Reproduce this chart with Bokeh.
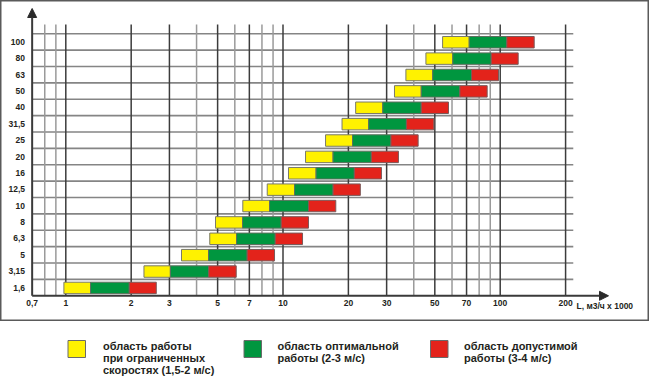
import math
from bokeh.plotting import figure
from bokeh.models import Range1d, Arrow, NormalHead
from bokeh.layouts import column
from bokeh.core.properties import value
from bokeh.embed import file_html
from bokeh.resources import INLINE

# ---------------- data ----------------
categories = ["1,6", "3,15", "5", "6,3", "8", "10", "12,5", "16", "20",
              "25", "31,5", "40", "50", "63", "80", "100"]
yellow_start = [0.98, 2.29, 3.41, 4.60, 4.89, 6.53, 8.46, 10.6, 12.7,
                15.7, 18.7, 21.6, 32.6, 36.8, 45.5, 54.3]
green_start = [1.30, 3.03, 4.54, 6.11, 6.51, 8.67, 11.3, 14.2, 17.0,
               20.9, 24.8, 28.8, 43.3, 48.9, 60.5, 72.0]
red_start = [1.96, 4.55, 6.84, 9.21, 9.81, 13.1, 17.0, 21.3, 25.5,
             31.4, 37.0, 43.3, 65.2, 73.8, 90.9, 107.3]
red_end = [2.61, 6.09, 9.14, 12.3, 13.1, 17.5, 22.7, 28.4, 34.0,
           41.9, 49.5, 57.8, 87.1, 98.2, 121.0, 143.4]

x_ticks = [0.7, 1, 2, 3, 5, 7, 10, 20, 30, 50, 70, 100, 200]
x_tick_labels = ["0,7", "1", "2", "3", "5", "7", "10", "20", "30", "50", "70", "100", "200"]
major_grid = [1, 2, 3, 5, 7, 10, 20, 30, 50, 70, 100, 200]
minor_grid = [0.8, 0.9, 4, 6, 8, 9, 40, 60, 80, 90]
x_min, grid_x_end = 0.7, 217.0
x_title = "L, м3/ч x 1000"

legend_colors = ["#fff200", "#00963f", "#e3231b"]
legend_texts = [["область работы", "при ограниченных", "скоростях (1,5-2 м/с)"],
                ["область оптимальной", "работы (2-3 м/с)"],
                ["область допустимой", "работы (3-4 м/с)"]]

# ---------------- layout constants ----------------
W, H = 649, 321
PX_1 = 65.3       # pixel of value 1
DEC = 217.2       # pixels per decade
AXIS_PX = 295.3   # pixel (from top) of the x axis
ROW = 16.38       # pixel height of a row band

x_start = 10 ** (-PX_1 / DEC)
x_end = 10 ** ((W - PX_1) / DEC)
y_end = AXIS_PX / ROW
y_start = -(H - AXIS_PX) / ROW


def px_x(px):
    return 10 ** ((px - PX_1) / DEC)


def px_y(py):
    return (AXIS_PX - py) / ROW


FONT = value("Liberation Sans")
TXT = "#231f20"

p = figure(width=W, height=H, x_axis_type="log",
           x_range=Range1d(x_start, x_end), y_range=Range1d(y_start, y_end),
           x_axis_location=None, y_axis_location=None,
           output_backend="svg", toolbar_location=None,
           min_border=0, min_border_left=0, min_border_right=0,
           min_border_top=0, min_border_bottom=0)
p.grid.visible = False
p.background_fill_color = "white"
p.border_fill_color = "white"
p.outline_line_color = "#5a5a5a"
p.outline_line_width = 2

n = len(categories)
vtop = px_y(24)

# horizontal grid lines
hy = [i + 1 for i in range(n)]
p.segment(x0=[x_min] * n, y0=hy, x1=[grid_x_end] * n, y1=hy,
          line_color="#858585", line_width=1.6)
# vertical grid lines
p.segment(x0=minor_grid, y0=[0] * len(minor_grid), x1=minor_grid,
          y1=[vtop] * len(minor_grid), line_color="#9a9a9a", line_width=1.5)
p.segment(x0=major_grid, y0=[0] * len(major_grid), x1=major_grid,
          y1=[vtop] * len(major_grid), line_color="#3c3c3c", line_width=1.5)

# bars
yc = [i + 0.48 for i in range(n)]
bh = 0.7
p.hbar(y=yc, left=yellow_start, right=green_start, height=bh,
       fill_color=legend_colors[0], line_color="#7a7a6a", line_width=1)
p.hbar(y=yc, left=green_start, right=red_start, height=bh,
       fill_color=legend_colors[1], line_color="#5f6f5f", line_width=1)
p.hbar(y=yc, left=red_start, right=red_end, height=bh,
       fill_color=legend_colors[2], line_color="#7a5a5a", line_width=1)

# axes with arrows
p.add_layout(Arrow(end=NormalHead(size=9, fill_color="#2a2a2a", line_color="#2a2a2a"),
                   x_start=x_min, y_start=0, x_end=px_x(608), y_end=0,
                   line_color="#3a3a3a", line_width=2))
p.add_layout(Arrow(end=NormalHead(size=9, fill_color="#2a2a2a", line_color="#2a2a2a"),
                   x_start=x_min, y_start=0, x_end=x_min, y_end=px_y(8),
                   line_color="#3a3a3a", line_width=2))

# category labels
p.text(x=[px_x(24.5)] * n, y=[i + 0.5 for i in range(n)], text=categories,
       text_font=FONT, text_font_style="bold", text_font_size="8.5px",
       text_align="right", text_baseline="middle", text_color=TXT)

# x tick labels
p.text(x=x_ticks, y=[px_y(302)] * len(x_ticks), text=x_tick_labels,
       text_font=FONT, text_font_style="bold", text_font_size="8.5px",
       text_align="center", text_baseline="middle", text_color=TXT)
p.text(x=[px_x(576)], y=[px_y(305)], text=[x_title],
       text_font=FONT, text_font_style="bold", text_font_size="8.5px",
       text_align="left", text_baseline="middle", text_color=TXT)

# ---------------- legend figure ----------------
LH = 377 - H
q = figure(width=650, height=LH, x_range=Range1d(0, 650), y_range=Range1d(LH, 0),
           x_axis_location=None, y_axis_location=None,
           output_backend="svg", toolbar_location=None,
           min_border=0, min_border_left=0, min_border_right=0,
           min_border_top=0, min_border_bottom=0)
q.grid.visible = False
q.outline_line_color = None
q.background_fill_color = "white"
q.border_fill_color = "white"

sw_left = [67.5, 243.5, 430]
sw_w = 17.5
q.quad(left=sw_left, right=[s + sw_w for s in sw_left],
       top=[340 - H] * 3, bottom=[357 - H] * 3,
       fill_color=legend_colors, line_color="#6a6a6a", line_width=1)

txt_left = [102.5, 277, 463.5]
tx, ty, tt = [], [], []
for k, lines in enumerate(legend_texts):
    for j, line in enumerate(lines):
        tx.append(txt_left[k])
        ty.append(345.7 - H + j * 11.8)
        tt.append(line)
q.text(x=tx, y=ty, text=tt, text_font=FONT, text_font_style="bold",
       text_font_size="11px", text_align="left", text_baseline="middle",
       text_color=TXT)

layout = column(p, q, spacing=0)
open("out.html", "w").write(file_html(layout, INLINE))
